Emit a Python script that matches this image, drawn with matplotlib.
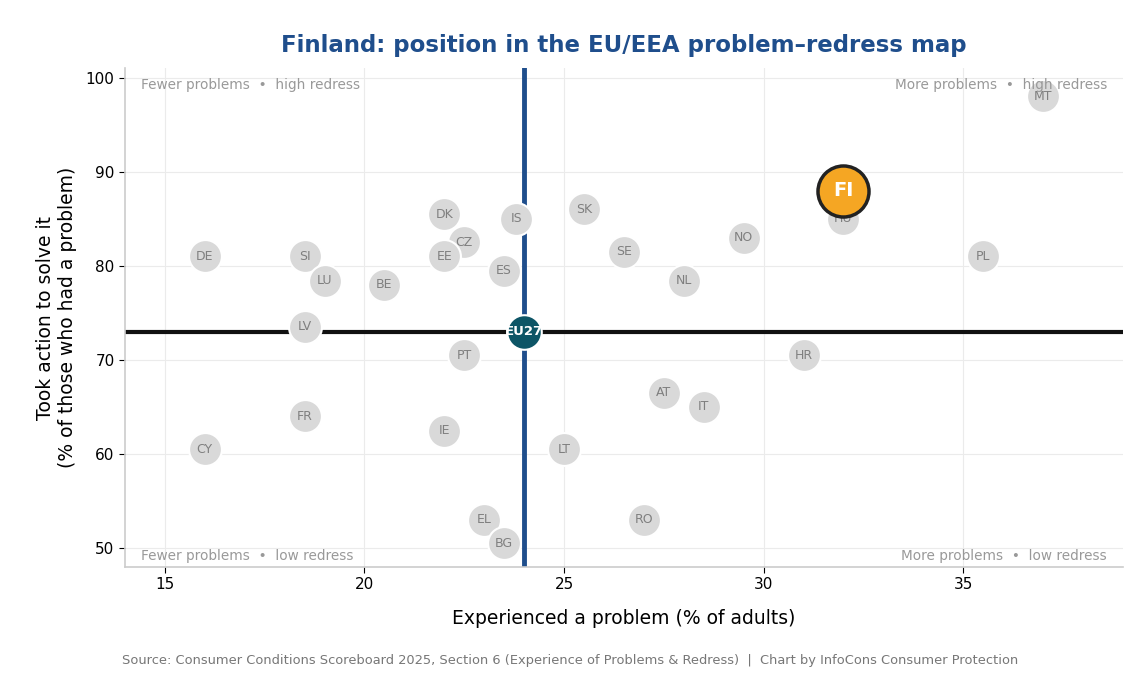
import matplotlib
matplotlib.use("Agg")
import matplotlib.pyplot as plt

countries = ["DE", "SI", "LU", "BE", "DK", "CZ", "EE", "IS", "ES", "SK", "SE", "NL", "NO",
             "HU", "PL", "MT", "LV", "PT", "HR", "AT", "IT", "FR", "IE", "CY", "LT", "EL",
             "RO", "BG"]
problems = [16.0, 18.5, 19.0, 20.5, 22.0, 22.5, 22.0, 23.8, 23.5, 25.5, 26.5, 28.0, 29.5,
            32.0, 35.5, 37.0, 18.5, 22.5, 31.0, 27.5, 28.5, 18.5, 22.0, 16.0, 25.0, 23.0,
            27.0, 23.5]
redress = [81.0, 81.0, 78.4, 78.0, 85.5, 82.5, 81.0, 85.0, 79.5, 86.0, 81.5, 78.4, 83.0,
           85.0, 81.0, 98.0, 73.5, 70.5, 70.5, 66.5, 65.0, 64.0, 62.5, 60.5, 60.5, 53.0,
           53.0, 50.5]
fi_label, fi_x, fi_y = "FI", 32.0, 88.0
eu_label, eu_x, eu_y = "EU27", 24.0, 73.0

fig = plt.figure(figsize=(11.4, 6.75), dpi=100)
ax = fig.add_axes([0.1096, 0.16, 0.8754, 0.739])

ax.set_xlim(14, 39)
ax.set_ylim(48, 101)
ax.set_xticks([15, 20, 25, 30, 35])
ax.set_yticks([50, 60, 70, 80, 90, 100])
ax.grid(True, color="#ebebeb", linewidth=0.8, zorder=0)
ax.set_axisbelow(True)
for s in ["top", "right"]:
    ax.spines[s].set_visible(False)
for s in ["left", "bottom"]:
    ax.spines[s].set_color("#cccccc")
    ax.spines[s].set_linewidth(1.2)
ax.tick_params(labelsize=11, length=4)

ax.axvline(eu_x, color="#1f4e8c", linewidth=3.5, zorder=2)
ax.axhline(eu_y, color="#111111", linewidth=3, zorder=2)

ax.scatter(problems, redress, s=560, color="#d9d9d9", edgecolor="white", linewidth=1.5, zorder=3)
for c, x, y in zip(countries, problems, redress):
    ax.text(x, y, c, ha="center", va="center", fontsize=9, color="#7f7f7f", zorder=4)

ax.scatter([eu_x], [eu_y], s=620, color="#0d5566", edgecolor="white", linewidth=1.5, zorder=5)
ax.text(eu_x, eu_y, eu_label, ha="center", va="center", fontsize=9.5, color="white",
        fontweight="bold", zorder=6)

ax.scatter([fi_x], [fi_y], s=1350, color="#f5a623", edgecolor="#222222", linewidth=2.5, zorder=7)
ax.text(fi_x, fi_y, fi_label, ha="center", va="center", fontsize=14, color="white",
        fontweight="bold", zorder=8)

cc = "#999999"
ax.text(0.016, 0.98, "Fewer problems  •  high redress", transform=ax.transAxes,
        ha="left", va="top", fontsize=9.8, color=cc)
ax.text(0.984, 0.98, "More problems  •  high redress", transform=ax.transAxes,
        ha="right", va="top", fontsize=9.8, color=cc)
ax.text(0.016, 0.008, "Fewer problems  •  low redress", transform=ax.transAxes,
        ha="left", va="bottom", fontsize=9.8, color=cc)
ax.text(0.984, 0.008, "More problems  •  low redress", transform=ax.transAxes,
        ha="right", va="bottom", fontsize=9.8, color=cc)

ax.set_xlabel("Experienced a problem (% of adults)", fontsize=13.5, labelpad=12)
ax.set_ylabel("Took action to solve it\n(% of those who had a problem)", fontsize=13.5, labelpad=6)
ax.set_title("Finland: position in the EU/EEA problem\u2013redress map", fontsize=16.5,
             fontweight="bold", color="#1f4e8c", pad=12)

fig.text(0.5, 0.022, "Source: Consumer Conditions Scoreboard 2025, Section 6 (Experience of Problems & Redress)  |  Chart by InfoCons Consumer Protection",
         ha="center", va="center", fontsize=9.4, color="#777777")

fig.savefig("out.png", dpi=100)
